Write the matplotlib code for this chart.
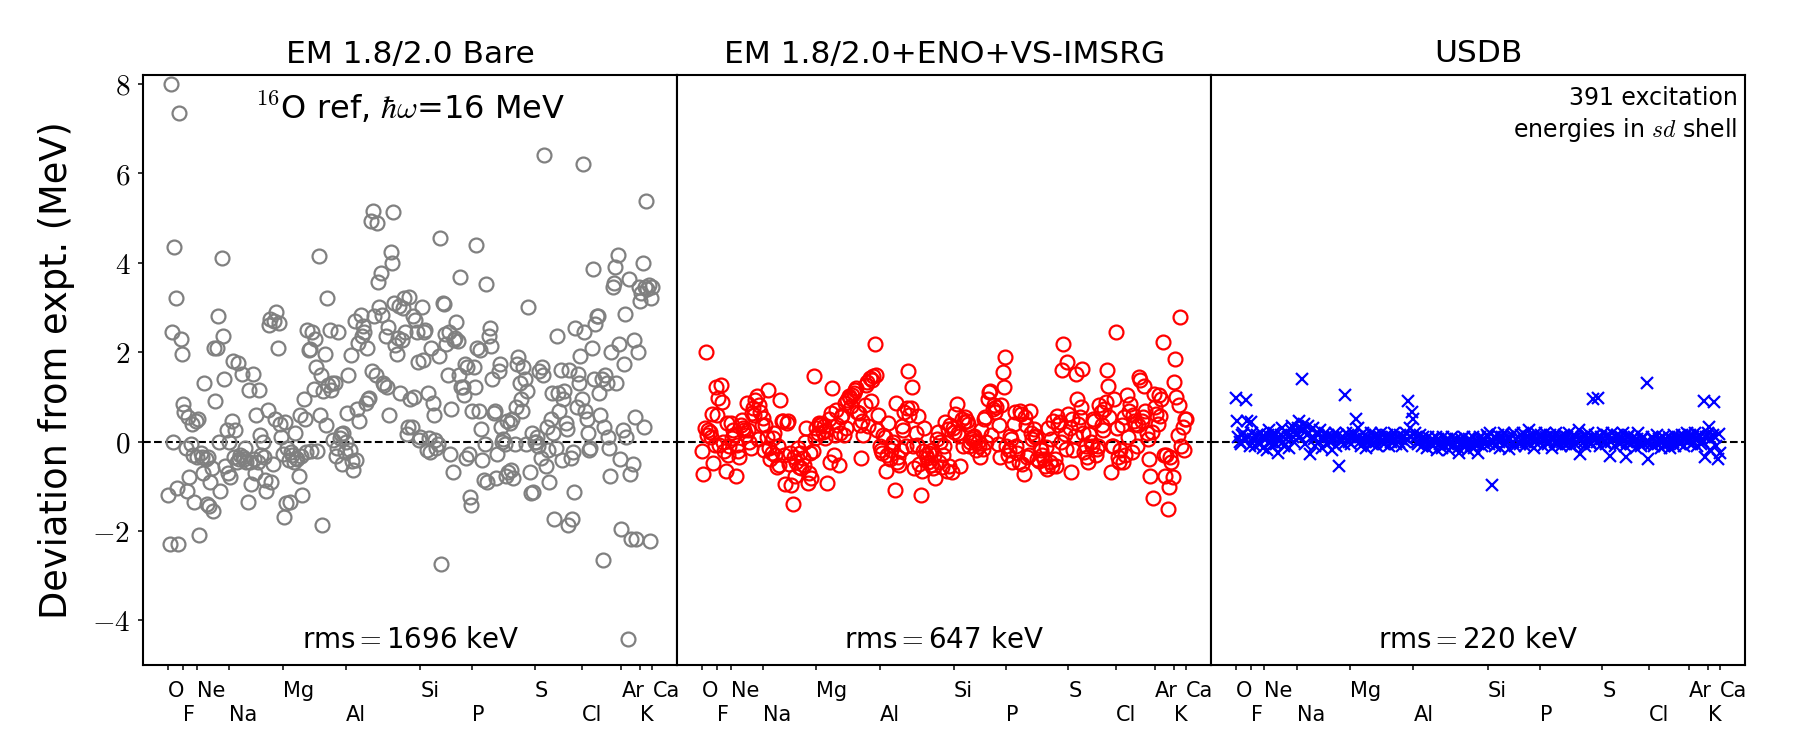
import numpy as np
import matplotlib
matplotlib.use("Agg")
import matplotlib.pyplot as plt
from matplotlib.ticker import FuncFormatter

plt.rcParams['mathtext.fontset'] = 'cm'
plt.rcParams['font.family'] = 'DejaVu Sans'

# first level index of every element (x axis = level number)
elements = ['O', 'F', 'Ne', 'Na', 'Mg', 'Al', 'Si', 'P', 'S', 'Cl', 'Ar', 'K', 'Ca']
element_start = [0, 12, 23, 49, 92, 143, 203, 245, 295, 333, 365, 380, 390]

titles = ['EM 1.8/2.0 Bare', 'EM 1.8/2.0+ENO+VS-IMSRG', 'USDB']
rms_kev = [1696, 647, 220]

# deviations (MeV), EM 1.8/2.0 bare
bare_O = [-1.2, -2.3, 8.0, 2.45, 0.0, 4.35, 3.2, -1.05, -2.3, 7.35, 2.3, 1.95]
bare_F = [0.85, 0.65, -0.15, -1.1, 0.55, -0.8, -0.05, 0.4, -0.3, -1.35, 0.45]
bare_Ne = [-0.35, 0.5, -2.1, -0.25, -0.35, -0.7, 1.3, -0.4, -1.4, -0.35, -1.45, -0.9, -0.6,
           -1.55, 2.1, 0.9, 2.1, 2.8, 0.0, -1.1, 4.1, 2.35, 1.4, -0.55, 0.25, -0.7]
bare_Na = [0.0, -0.8, 0.45, 1.8, -0.35, 0.25, -0.45, 1.75, -0.4, -0.3, 1.5, -0.35, -0.4, -0.15,
           -0.45, -1.35, 1.15, -0.45, -0.95, 1.5, -0.4, -0.7, 0.6, -0.45, 1.15, 0.15, -0.3, 0.0,
           -0.35, -0.85, -1.1, 0.7, 2.6, 2.75, -0.9, -0.5, 2.7, 0.5, 2.9, 2.1, 2.65, 0.4, 0.1]
bare_Mg = [-0.28, -1.69, 0.44, -1.38, -0.15, -0.41, -1.36, -0.24, -0.3, -0.46, 0.2, -0.37, -0.4,
           -0.77, 0.6, -0.33, -1.19, 0.95, 0.51, -0.24, 2.49, 2.05, 2.07, -0.22, 2.45, 1.17, 2.30,
           1.66, -0.22, 4.14, 0.6, 1.48, -1.87, 1.13, 1.96, 0.38, 3.22, 1.26, 2.49, 1.15, 1.30,
           0.03, 1.32, -0.33, -0.15, 2.45, 0.07, 0.16, -0.5, 0.2, -0.24, -0.02, 0.64, 1.48, -0.19,
           1.94, -0.44, -0.63, 2.69]
bare_Al = [-0.41, 0.73, 2.2, 0.47, 2.82, 2.36, 2.58, 2.45, 0.86, 2.1, 0.95, 0.98, 4.94, 1.57,
           5.15, 2.8, 1.48, 4.89, 3.58, 3.02, 3.77, 2.82, 1.3, 1.26, 2.36, 1.22, 2.56, 0.6, 4.24,
           3.99, 5.14, 3.11, 2.16, 1.96, 2.32, 3.04, 1.08, 2.27, 2.98, 3.2, 2.45, 0.16, 0.33]
bare_Si_P = [3.24, 0.95, 0.33, 2.8, 1.0, 2.71, 2.45, 1.79, 0.03, 0.1, 3.02, 1.83, 2.45, 2.49,
             -0.19, 1.08, 0.07, -0.24, 2.1, 0.86, 0.6, 0.03, -0.15, -0.05, 1.92, 4.56, -2.73,
             3.09, 3.07, 2.41, 2.19, 1.48, 2.45, -0.28, 0.73, -0.68, 2.27, 2.32, 2.67, 2.26,
             1.48, 3.68, 1.22, 1.22, 1.04, 1.74, -0.37, 1.66, -0.28, -1.25, -1.43, 0.69, 1.66,
             1.22, 4.39, 2.1, 0.69, 2.05, 0.29, -0.41, -0.85, -0.06, 3.52, -0.9, 2.36, 2.54,
             2.14, 1.39, 0.64, 0.69, -0.81, -0.28, 1.57, 1.74, 0.33, -0.02, 0.05, -0.05, -0.77,
             0.47, -0.68, 0.42, -0.63, 0.51, -0.81, -0.06, 0.78, 1.74, 1.88, 1.3, 0.95, 0.69,
             1.66, 1.39, -0.06, 1.13, 3.0, -0.68, -1.15, 0.2, -1.12, -0.02, 0.0, 0.1, -0.1, 1.57,
             -0.37, 1.66, 1.48, 6.41]
bare_S_Ca = [-0.55, 0.33, -0.19, -0.9, 0.51, 1.08, 0.2, -1.74, -0.15, 2.36, 1.08, 0.69, 1.61,
             -0.41, 0.95, 1.13, 0.42, 0.29, -1.87, 1.61, -0.37, -1.74, -0.24, -1.12, 2.54, 0.78,
             1.52, 1.3, 1.92, 0.95, 6.22, 2.45, 0.69, 0.51, 0.2, -0.19, -0.15, 2.1, 3.86, 1.39,
             2.63, 2.8, 2.8, 1.08, 0.6, 1.39, -2.64, 0.33, 1.48, 1.3, 0.11, -0.15, -0.77, 2.0,
             3.46, 3.55, 3.9, 1.3, 4.17, 2.19, -0.4, -1.96, 0.25, 1.74, 2.85, 0.11, -4.42, 3.64,
             -0.72, -2.18, -0.5, 2.27, 0.55, -2.18, 2.0, 3.46, 3.15, 3.33, 3.99, 0.33, 3.46, 5.37,
             3.42, 3.5, -2.22, 3.2, 3.45]

# EM 1.8/2.0 + ENO + VS-IMSRG
imsrg_O_Ne = [-0.21, -0.72, 0.3, 2.01, 0.15, 0.26, 0.22, 0.1, 0.61, -0.49, -0.07, 1.23, 0.6,
              0.97, -0.07, 1.27, 0.88, 0.0, -0.22, -0.67, 0.41, -0.3, -0.11, 0.41, 0.07, 0.26,
              0.15, -0.76, -0.07, -0.22, -0.34, 0.37, 0.49, 0.3, 0.26, 0.15, 0.86, 0.26, 0.0,
              -0.15, 0.63, 0.75, 0.6, 0.93, 1.01, 0.05, 0.82, 0.67, 0.37]
imsrg_Na = [0.52, -0.2, 0.37, 0.11, 1.16, -0.15, -0.4, -0.26, 0.07, 0.2, -0.3, -0.56, -0.1,
            -0.52, 0.93, 0.45, 0.46, -0.3, -0.96, 0.41, 0.45, -0.5, -0.26, -0.97, -1.4, -0.35,
            -0.78, -0.45, -0.15, -0.56, -0.26, -0.6, -0.37, -0.52, 0.0, 0.3, -0.93, -0.71, -0.25,
            -0.82, -0.22, 1.47, 0.07]
imsrg_Mg = [0.3, 0.2, 0.41, 0.37, 0.4, 0.22, 0.34, 0.07, 0.26, -0.93, 0.5, -0.45, 0.63, 1.19,
            -0.3, 0.15, 0.7, 0.37, -0.52, 0.19, 0.55, 0.6, 0.15, 0.86, 0.3, 0.93, 1.01, 0.97, 0.8,
            1.04, 1.08, 1.16, 1.19, 0.65, 0.63, 0.37, -0.37, 0.45, 0.15, 0.82, 1.27, 1.34, 0.35,
            1.42, 0.9, 1.38, 1.46, 2.18, 1.49, 0.25, 0.6]
imsrg_Al = [-0.11, -0.2, -0.26, 0.15, 0.1, -0.67, -0.3, 0.41, -0.4, -0.19, -0.07, 0.0, -1.08,
            0.86, -0.45, -0.35, -0.52, -0.19, 0.34, 0.25, 0.67, -0.11, 0.75, 1.58, 0.6, 0.75,
            1.23, -0.1, -0.6, 0.19, -0.07, 0.56, -0.5, -1.19, -0.67, -0.22, 0.3, -0.3, -0.37,
            -0.45, -0.25, -0.52, -0.19, -0.6, -0.3, -0.82, 0.05, 0.21, -0.46, -0.01, -0.57, -0.3,
            -0.09, 0.43, -0.65, 0.28, -0.54]
imsrg_Si = [0.36, -0.69, 0.3, 0.21, 0.62, 0.84, 0.2, 0.13, -0.54, 0.51, -0.1, 0.43, 0.54, 0.47,
            0.4, -0.09, -0.01, 0.06, 0.1, 0.13, 0.02, -0.2, -0.01, -0.09, -0.35, 0.25, -0.16,
            0.51, 0.54, 0.0, 0.96, 1.1, 1.14, 0.15, 0.73, 0.81, 0.66, 0.77, -0.05, 0.36, -0.35,
            0.81, 1.55, 1.22, 1.89]
imsrg_P = [-0.09, -0.3, -0.2, 0.13, 0.06, -0.45, 0.4, 0.66, -0.09, -0.25, -0.46, 0.69, 0.62,
           -0.5, -0.72, 0.54, 0.36, -0.35, -0.31, 0.69, 0.2, 0.06, 0.28, 0.1, 0.13, -0.39, -0.43,
           -0.15, -0.2, -0.31, -0.4, -0.54, -0.13, -0.61, 0.3, -0.46, 0.06, -0.54, 0.45, -0.39,
           -0.55, 0.58, 0.36, 0.43, 0.0, 1.59, 2.19, 0.17, -0.16, 1.78]
imsrg_S = [0.62, 0.3, -0.69, 0.51, -0.2, 0.13, 1.51, 0.96, 0.4, 0.54, 0.77, 1.63, 0.2, -0.24,
           -0.09, -0.35, -0.46, 0.17, 0.0, -0.09, 0.51, 0.45, -0.31, -0.16, -0.1, 0.81, 0.66,
           0.36, 0.25, 0.73, 0.88, 1.59, 1.25, 0.55, -0.69, -0.09, -0.09, 0.96]
imsrg_Cl = [2.45, 0.3, -0.35, -0.46, -0.2, 0.36, -0.46, 0.55, -0.31, 1.03, 0.1, 0.69, 0.84,
            -0.24, 0.6, 0.47, 0.4, -0.1, 0.36, 1.44, 1.37, 0.45, 0.54, 1.25, 0.69, 0.2, 0.06,
            -0.39, -0.76, 0.21, -1.27, 1.07]
imsrg_Ar_Ca = [0.77, 0.62, 0.4, 1.03, 0.58, 0.96, 2.22, -0.31, -0.76, -0.3, -1.51, -1.02, -0.35,
               -0.46, -0.8, 1.33, 1.85, 0.99, 0.15, 0.81, 2.78, -0.09, 0.32, -0.2, 0.51, 0.51]

# USDB
usdb_O = [0.97, 0.47, 0.1, 0.0, -0.05, 0.15, 0.2, 0.05, 0.94, 0.47, 0.1, -0.1]
usdb_F = [0.43, 0.2, 0.05, -0.1, 0.1, 0.15, 0.0, -0.05, 0.2, 0.1, -0.15]
usdb_Ne = [0.1, 0.05, -0.2, 0.15, 0.25, 0.0, -0.1, 0.1, 0.2, -0.05, 0.05, -0.25, 0.1, 0.15, 0.3,
           0.0, -0.1, 0.05, 0.2, 0.1, -0.15, 0.25, 0.35, 0.1, 0.0, 0.15]
usdb_Na = [0.2, 0.3, 0.45, 0.1, 1.39, 0.25, 0.4, -0.05, 0.15, 0.35, 0.2, -0.28, 0.1, 0.3, 0.05,
           -0.1, 0.2, 0.15, 0.0, 0.25, -0.15, 0.1, 0.05, 0.2, -0.05, 0.15, 0.1, 0.0, -0.2, 0.1,
           0.05, 0.2, -0.1, 0.15, -0.55, 0.05, 0.0, 0.1, -0.05, 1.04, 0.2, 0.15, 0.0]
usdb_Mg = [0.1, -0.05, 0.2, 0.15, 0.05, 0.51, 0.3, 0.1, 0.0, -0.1, 0.2, 0.05, 0.15, -0.15, 0.1,
           0.0, 0.05, 0.2, -0.05, 0.1, 0.15, 0.0, -0.1, 0.05, 0.1, 0.2, 0.0, -0.05, 0.1, 0.05,
           0.15, -0.1, 0.05, 0.0, 0.1, 0.2, 0.05, -0.05, 0.1, 0.0, 0.15, 0.05, -0.1, 0.1, 0.0,
           0.2, 0.05, 0.9, 0.3, 0.1, 0.66]
usdb_Al = [0.51, 0.2, 0.1, 0.0, -0.05, 0.15, 0.05, -0.1, 0.1, 0.0, 0.05, -0.15, 0.1, 0.0, -0.05,
           0.05, -0.1, 0.0, 0.1, -0.2, 0.05, -0.05, 0.0, -0.15, 0.1, -0.1, 0.0, 0.05, -0.05, -0.2,
           0.0, 0.1, -0.1, -0.05, 0.05, 0.0, -0.15, -0.25, 0.05, 0.0, -0.1, 0.1, -0.05, 0.0, -0.2,
           0.05, -0.1, 0.0, 0.1, -0.15, -0.05, 0.0, -0.25, 0.05, 0.1, -0.1, 0.0, 0.05, -0.05, 0.15]
usdb_Si = [0.1, -0.05, 0.2, -0.97, 0.0, 0.1, -0.1, 0.05, 0.15, 0.0, -0.15, 0.1, 0.05, 0.2, -0.05,
           0.0, 0.1, -0.16, 0.05, 0.15, 0.0, 0.2, -0.1, 0.05, 0.1, 0.0, -0.05, 0.15, 0.2, 0.05,
           -0.1, 0.0, 0.1, 0.25, -0.05, 0.05, 0.1, -0.15, 0.0, 0.2, 0.05, 0.1]
usdb_P = [0.0, 0.15, -0.1, 0.05, 0.2, 0.1, -0.05, 0.0, 0.15, 0.05, -0.15, 0.1, 0.0, 0.2, -0.05,
          0.05, 0.1, -0.1, 0.0, 0.15, 0.05, -0.05, 0.1, 0.2, 0.0, -0.1, 0.05, 0.15, -0.05, 0.1,
          0.0, 0.25, -0.28, 0.05, 0.1, 0.0, -0.1, 0.15, 0.05, 0.2, 0.0, -0.05, 0.1, 0.96, 0.15,
          0.05, 0.0, 0.97, -0.1, 0.1]
usdb_S = [0.05, 0.2, 0.0, -0.05, 0.15, 0.1, -0.33, 0.0, 0.2, 0.05, -0.1, 0.1, 0.15, 0.0, -0.05,
          0.1, 0.05, 0.2, -0.1, -0.35, 0.0, 0.1, 0.15, -0.05, 0.05, 0.0, 0.1, -0.15, 0.05, 0.2,
          0.0, -0.1, 0.05, 0.1, -0.05, 0.0, 1.31, -0.39]
usdb_Cl = [0.0, -0.05, 0.1, 0.05, -0.1, 0.0, 0.15, -0.05, 0.05, -0.15, 0.0, 0.1, -0.1, 0.05, 0.0,
           -0.05, 0.1, -0.15, 0.05, 0.0, 0.15, -0.1, 0.05, 0.1, 0.0, -0.05, 0.15, 0.05, -0.1, 0.1,
           0.2, 0.0]
usdb_Ar_Ca = [0.05, 0.15, -0.05, 0.1, 0.0, 0.2, -0.1, 0.05, 0.15, 0.1, -0.05, 0.0, 0.9, -0.35,
              0.1, 0.2, 0.32, -0.2, 0.05, 0.15, 0.88, 0.1, -0.1, -0.39, 0.17, -0.25]

bare = bare_O + bare_F + bare_Ne + bare_Na + bare_Mg + bare_Al + bare_Si_P + bare_S_Ca
imsrg = (imsrg_O_Ne + imsrg_Na + imsrg_Mg + imsrg_Al + imsrg_Si + imsrg_P + imsrg_S
         + imsrg_Cl + imsrg_Ar_Ca)
usdb = (usdb_O + usdb_F + usdb_Ne + usdb_Na + usdb_Mg + usdb_Al + usdb_Si + usdb_P + usdb_S
        + usdb_Cl + usdb_Ar_Ca)

series = [bare, imsrg, usdb]
styles = [dict(marker='o', color='gray', mfc='none', ms=10, mew=1.6),
          dict(marker='o', color='red', mfc='none', ms=10, mew=1.6),
          dict(marker='x', color='blue', ms=9, mew=1.6)]

# element labels alternate between two rows: upper row on major ticks, lower row on minor ticks
upper_pos, upper_lab = element_start[0::2], elements[0::2]
lower_pos, lower_lab = element_start[1::2], elements[1::2]

fig = plt.figure(figsize=(18, 7.5), dpi=100)
left, right, bottom, top = 0.0797, 0.9694, 0.1133, 0.9
w = (right - left) / 3

axes = []
for i in range(3):
    ax = fig.add_axes([left + i * w, bottom, w, top - bottom])
    axes.append(ax)
    vals = np.asarray(series[i])
    ax.axhline(0, color='k', ls='--', lw=1.5, zorder=1)
    ax.plot(np.arange(len(vals)), vals, ls='none', zorder=2, **styles[i])
    ax.set_xlim(-20, 410)
    ax.set_ylim(-5, 8.2)
    ax.set_xticks(upper_pos)
    ax.set_xticklabels(upper_lab, fontsize=15, ha='left')
    ax.set_xticks(lower_pos, minor=True)
    ax.set_xticklabels(lower_lab, minor=True, fontsize=15, ha='left')
    ax.tick_params(axis='x', which='both', length=3.5, width=1.1)
    ax.tick_params(axis='x', which='major', pad=8)
    ax.tick_params(axis='x', which='minor', pad=25)
    ax.set_title(titles[i], fontsize=22.5, pad=9)
    ax.text(0.5, 0.018, 'rms$=$%d keV' % rms_kev[i], transform=ax.transAxes,
            ha='center', va='bottom', fontsize=20)
    for s in ax.spines.values():
        s.set_linewidth(1.5)
    if i == 0:
        ax.set_yticks([-4, -2, 0, 2, 4, 6, 8])
        ax.yaxis.set_major_formatter(FuncFormatter(lambda v, p: '$%g$' % v))
        ax.tick_params(axis='y', labelsize=21, length=3.5, width=1.1, pad=6)
        ax.set_ylabel('Deviation from expt. (MeV)', fontsize=26.5)
        ax.yaxis.set_label_coords(-0.128, 0.5)
    else:
        ax.set_yticks([])

axes[0].text(0.5, 0.975, r'$^{16}$O ref, $\hbar\omega$=16 MeV', transform=axes[0].transAxes,
             ha='center', va='top', fontsize=23)
axes[2].text(0.986, 0.982, '391 excitation\nenergies in $sd$ shell', transform=axes[2].transAxes,
             ha='right', va='top', fontsize=17, linespacing=1.3)

fig.savefig('out.png', dpi=100)
